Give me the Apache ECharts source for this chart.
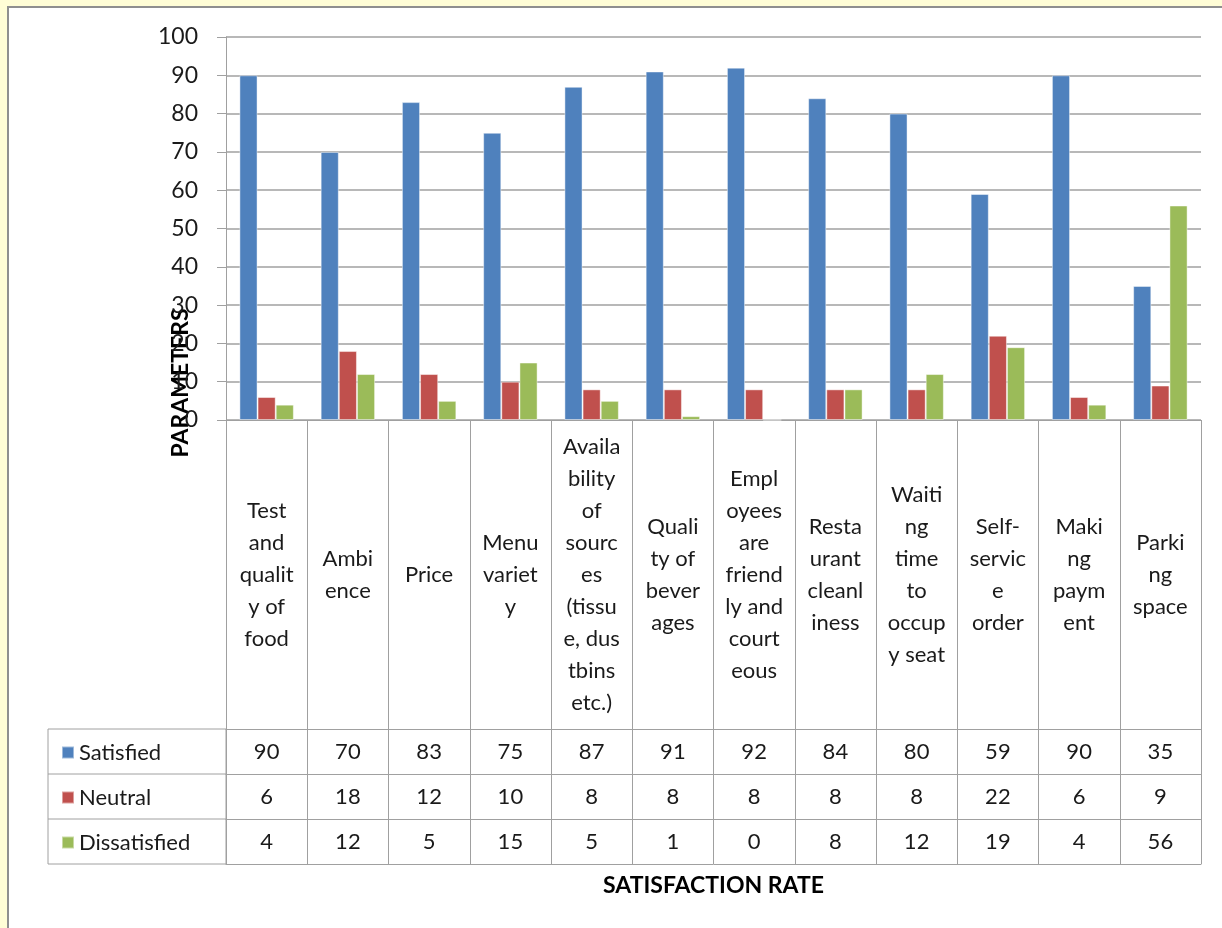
<!DOCTYPE html>
<html>
<head>
<meta charset="utf-8">
<script src="https://cdn.jsdelivr.net/npm/echarts@6/dist/echarts.min.js"></script>
<style>
  html, body { margin: 0; padding: 0; background: #fffdd6; }
  #frame { position: absolute; left: 7px; top: 6px; width: 1400px; height: 1000px;
           background: #fff; border: 2px solid #8f8f8f; }
  #main { position: absolute; left: 0; top: 0; width: 1222px; height: 928px; }
</style>
</head>
<body>
<div id="frame"></div>
<div id="main"></div>
<script>
// categories, as wrapped in the original chart
var categories = [
  'Test\nand\nqualit\ny of\nfood',
  'Ambi\nence',
  'Price',
  'Menu\nvariet\ny',
  'Availa\nbility\nof\nsourc\nes\n(tissu\ne, dus\ntbins\netc.)',
  'Quali\nty of\nbever\nages',
  'Empl\noyees\nare\nfriend\nly and\ncourt\neous',
  'Resta\nurant\ncleanl\niness',
  'Waiti\nng\ntime\nto\noccup\ny seat',
  'Self-\nservic\ne\norder',
  'Maki\nng\npaym\nent',
  'Parki\nng\nspace'
];
var seriesNames = ['Satisfied', 'Neutral', 'Dissatisfied'];
var satisfied    = [90, 70, 83, 75, 87, 91, 92, 84, 80, 59, 90, 35];
var neutral      = [6, 18, 12, 10, 8, 8, 8, 8, 8, 22, 6, 9];
var dissatisfied = [4, 12, 5, 15, 5, 1, 0, 8, 12, 19, 4, 56];
var colors = ['#4f81bd', '#c0504d', '#9bbb59'];

// layout
var FONT = 'Lato, "Noto Sans", sans-serif';
var gridL = 226, gridR = 21, gridT = 37, gridB = 508;
var labelBand = 309, rowH = 45;
var lineColor = '#a0a0a0';
var tableLeft = 48;

var chart = echarts.init(document.getElementById('main'), null, { renderer: 'canvas' });

var rows = [satisfied, neutral, dissatisfied];
function tableAxis(k) {
  var vals = rows[k];
  return {
    type: 'category', data: categories, position: 'bottom',
    gridIndex: 0, offset: labelBand + k * rowH,
    axisLine: { show: true, lineStyle: { color: lineColor, width: 1 } },
    axisTick: { show: false },
    axisLabel: {
      show: vals != null, interval: 0, margin: rowH / 2, verticalAlign: 'middle',
      fontFamily: FONT, fontSize: 22, color: '#1a1a1a',
      formatter: function (v, i) { return vals ? String(vals[i]) : ''; }
    },
    splitLine: { show: false }
  };
}

var option = {
  backgroundColor: 'transparent',
  animation: false,
  grid: { left: gridL, right: gridR, top: gridT, bottom: gridB, containLabel: false, outerBoundsMode: 'none' },
  legend: {
    orient: 'vertical', left: tableLeft + 8, top: 729 + rowH / 2 - 16,
    itemWidth: 12, itemHeight: 12, itemGap: rowH - 24, icon: 'rect',
    data: seriesNames,
    textStyle: { fontFamily: FONT, fontSize: 22, color: '#1a1a1a', lineHeight: 24, height: 24 }
  },
  xAxis: [
    {
      type: 'category', data: categories, position: 'bottom',
      axisLine: { show: true, lineStyle: { color: lineColor, width: 1 } },
      axisTick: { show: true, length: labelBand + 3 * rowH, interval: 0, alignWithLabel: false,
                  lineStyle: { color: lineColor, width: 1 } },
      axisLabel: {
        interval: 0, margin: labelBand / 2, verticalAlign: 'middle',
        fontFamily: FONT, fontSize: 22, lineHeight: 32, color: '#1a1a1a', align: 'center'
      },
      splitLine: { show: false }
    },
    tableAxis(0), tableAxis(1), tableAxis(2), tableAxis(3)
  ],
  yAxis: {
    type: 'value', min: 0, max: 100, interval: 10,
    axisLine: { show: true, lineStyle: { color: lineColor, width: 1 } },
    axisTick: { show: true, length: 9, lineStyle: { color: lineColor } },
    axisLabel: { fontFamily: FONT, fontSize: 23, color: '#1a1a1a', margin: 28 },
    splitLine: { show: true, lineStyle: { color: '#a0a0a0', width: 1.5 } }
  },
  series: [satisfied, neutral, dissatisfied].map(function (d, k) {
    return {
      name: seriesNames[k], type: 'bar', data: d,
      barGap: 0, barCategoryGap: '33%',
      itemStyle: { color: colors[k], borderColor: 'rgba(255,255,255,0.45)', borderWidth: 1 }
    };
  }),
  graphic: [
    // row header box of the data table
    { type: 'rect', shape: { x: tableLeft, y: 729, width: gridL - tableLeft, height: 3 * rowH },
      style: { fill: 'none', stroke: lineColor, lineWidth: 1 }, silent: true },
    { type: 'line', shape: { x1: tableLeft, y1: 729 + rowH, x2: gridL, y2: 729 + rowH },
      style: { stroke: lineColor, lineWidth: 1 }, silent: true },
    { type: 'line', shape: { x1: tableLeft, y1: 729 + 2 * rowH, x2: gridL, y2: 729 + 2 * rowH },
      style: { stroke: lineColor, lineWidth: 1 }, silent: true },
    { type: 'text', x: 181, y: 383, rotation: Math.PI / 2,
      style: { text: 'PARAMETERS', font: 'bold 23px ' + FONT, fill: '#000',
               textAlign: 'center', textVerticalAlign: 'middle' } },
    { type: 'text', x: gridL + (1222 - gridR - gridL) / 2, y: 886,
      style: { text: 'SATISFACTION RATE', font: 'bold 23px ' + FONT, fill: '#000',
               textAlign: 'center', textVerticalAlign: 'middle' } }
  ]
};
// fifth axis only draws the bottom border of the table
option.xAxis[4].offset = labelBand + 3 * rowH;
chart.setOption(option);
</script>
</body>
</html>
